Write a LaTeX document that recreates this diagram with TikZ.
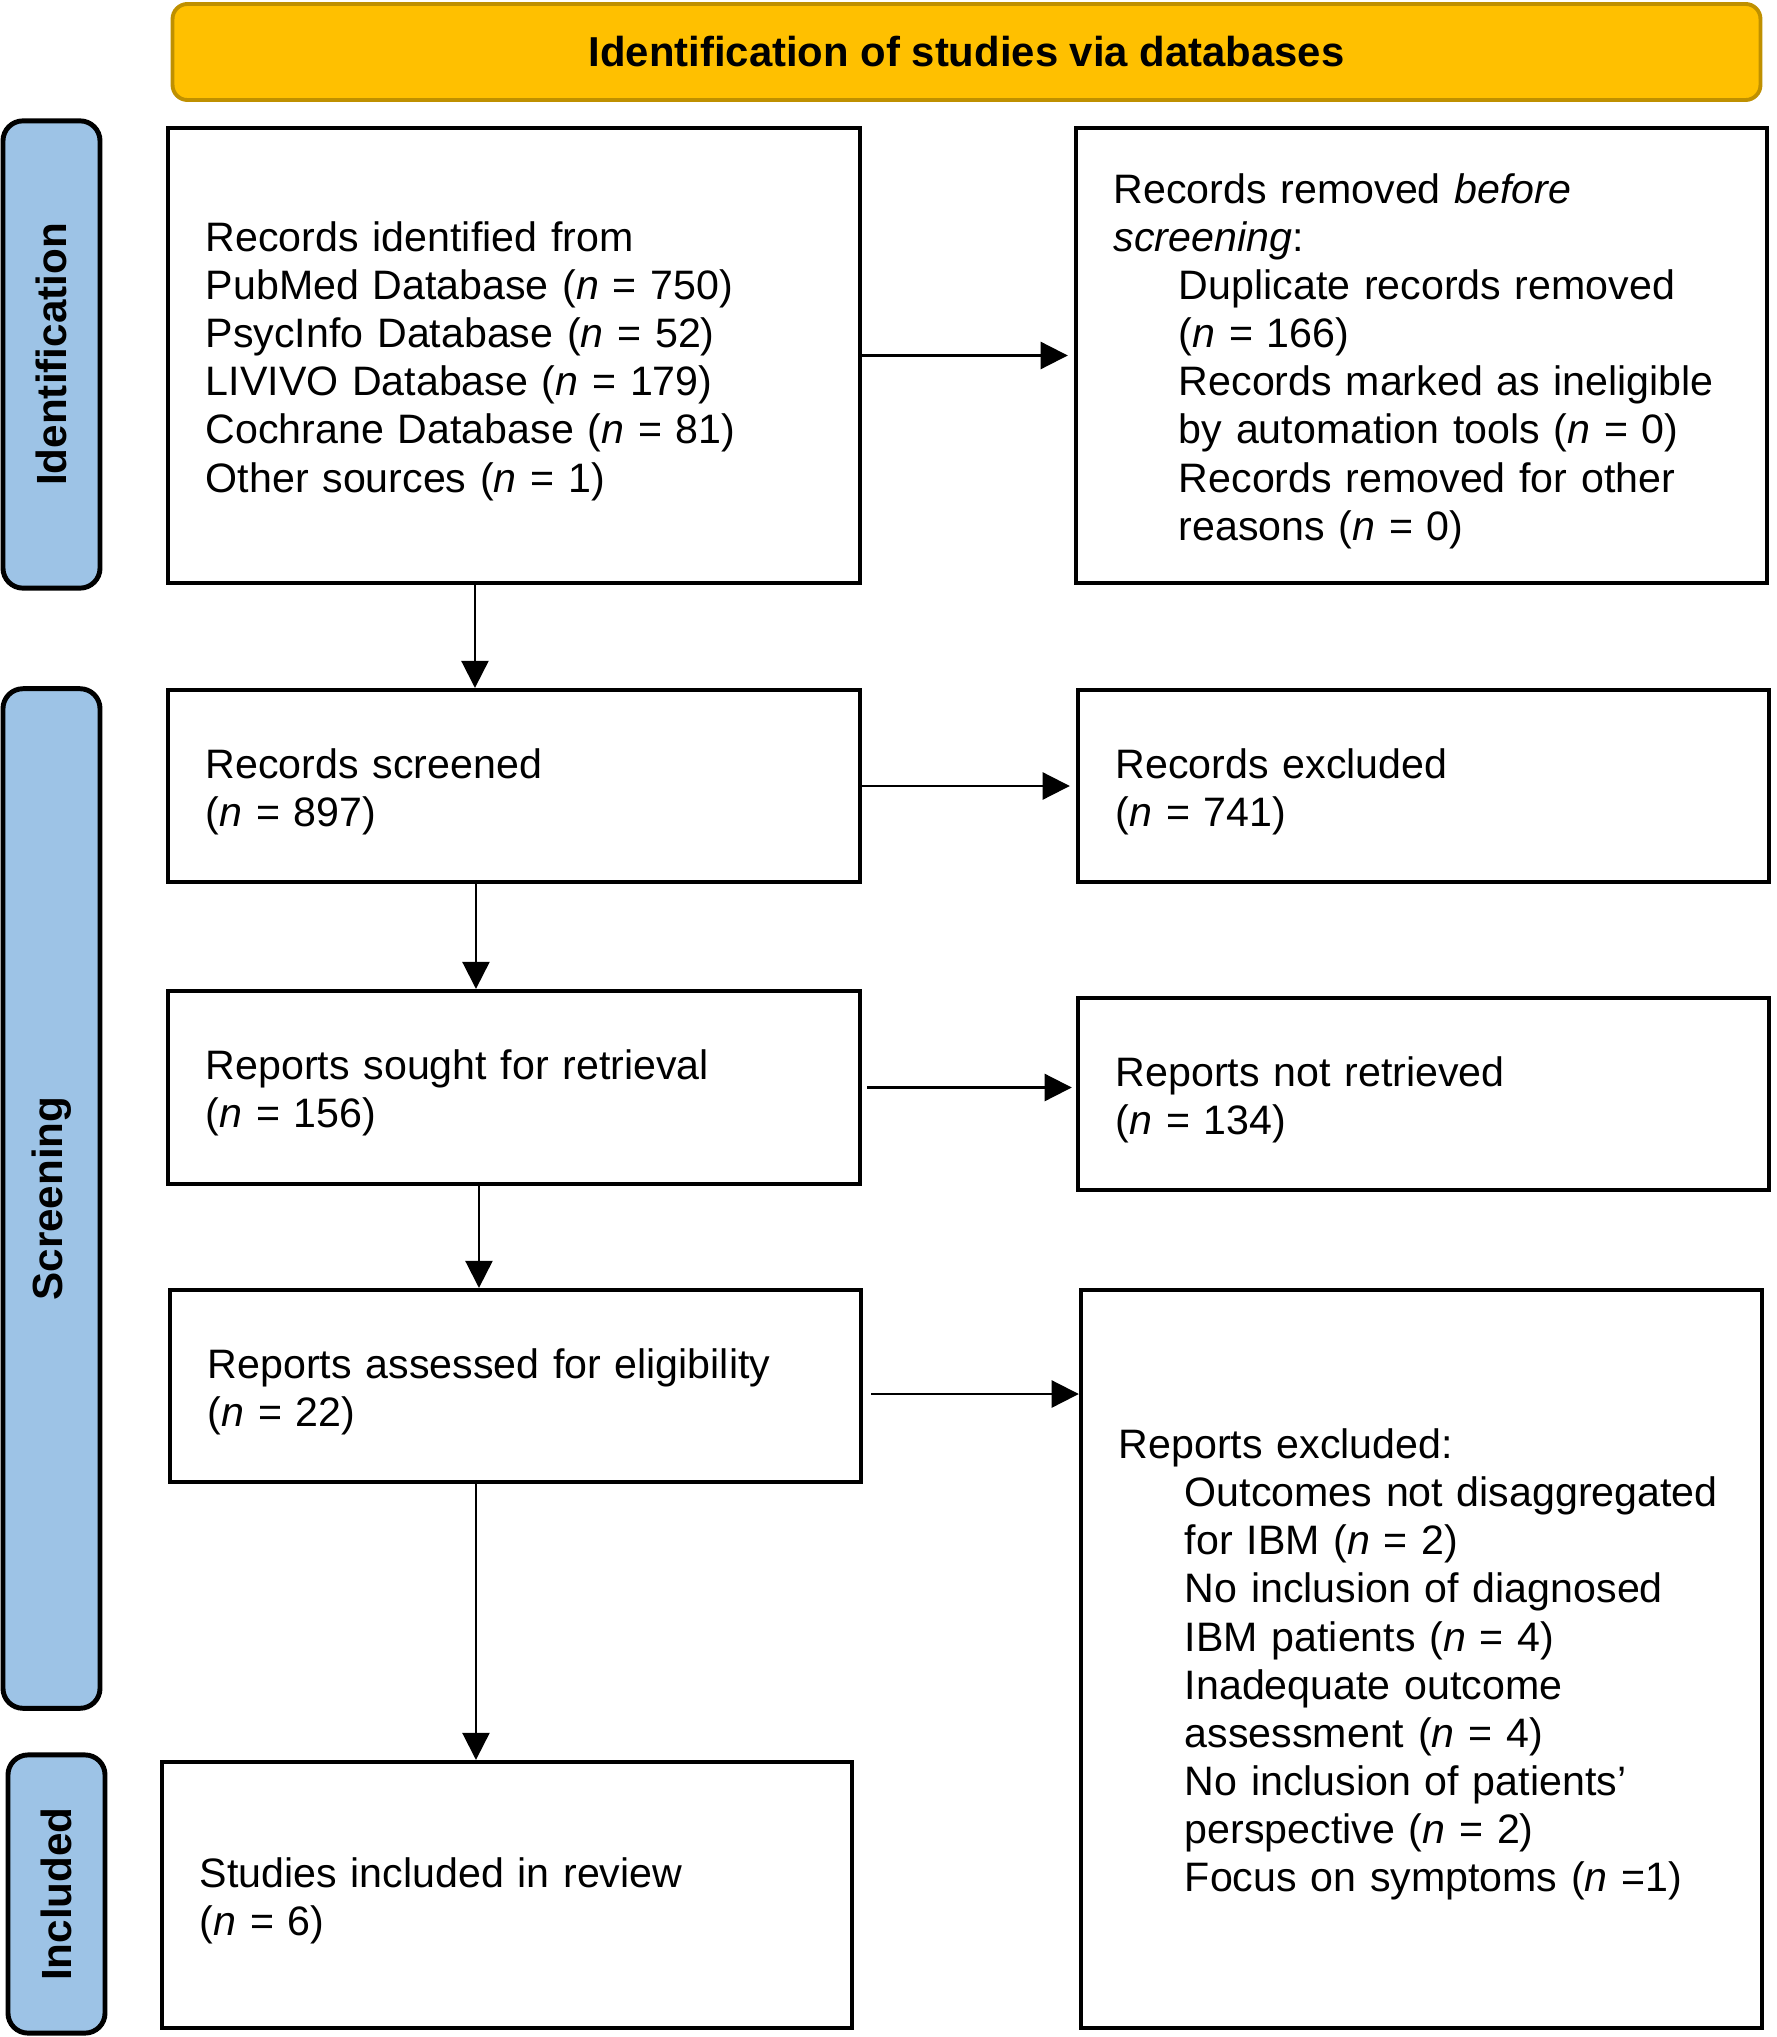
\documentclass[tikz,border=0pt]{standalone}
\usepackage{fontspec}
\setmainfont{Liberation Sans}
\usetikzlibrary{arrows.meta}

\definecolor{headgold}{HTML}{FFC000}
\definecolor{headedge}{HTML}{BF9000}
\definecolor{sideblue}{HTML}{9DC3E6}

\begin{document}
\begin{tikzpicture}[x=0.01cm, y=-0.01cm,
	every node/.style={font=\fontsize{11.7pt}{13.7pt}\selectfont},
	stagebox/.style={draw, line width=1.15pt, align=left, inner xsep=0.38cm, inner ysep=0pt, execute at begin node={\rule{0pt}{11.6pt}}},
	sidebox/.style={draw, fill=sideblue, line width=1.4pt, rounded corners=0.2cm, rotate=90, minimum height=0.97cm, inner sep=0pt, font=\fontsize{12pt}{14pt}\selectfont\bfseries},
	arr/.style={line width=0.6pt, -{Triangle[length=7.7pt, width=7.7pt]}}]
				\useasboundingbox (0, 0) rectangle (1776, 2037);
				\node[draw=headedge, fill=headgold, line width=1.1pt, rounded corners=0.15cm, minimum width=15.87cm, minimum height=0.96cm, font=\fontsize{11.9pt}{14pt}\selectfont\bfseries] (head) at (966.5, 52) {Identification of studies via databases};
				\node[sidebox, minimum width=4.67cm] (sideid) at (51.5, 354.5) {Identification};
				\node[sidebox, minimum width=10.19cm] (sidescr) at (51.5, 1198.5) {Screening};
				\node[sidebox, minimum width=2.78cm] (sideinc) at (56.5, 1894) {Included};
				\node[stagebox, text width=6.16cm, minimum height=4.55cm] (ident) at (514, 355.5) {Records identified from\\PubMed Database (\textit{n} = 750)\\PsycInfo Database (\textit{n} = 52)\\LIVIVO Database (\textit{n} = 179)\\Cochrane Database (\textit{n} = 81)\\Other sources (\textit{n} = 1)};
				\node[stagebox, text width=6.15cm, minimum height=4.55cm] (removed) at (1421.5, 355.5) {Records removed \textit{before}\\\textit{screening}:\\\hspace*{0.65cm}Duplicate records removed\\\hspace*{0.65cm}(\textit{n} = 166)\\\hspace*{0.65cm}Records marked as ineligible\\\hspace*{0.65cm}by automation tools (\textit{n} = 0)\\\hspace*{0.65cm}Records removed for other\\\hspace*{0.65cm}reasons (\textit{n} = 0)};
				\node[stagebox, text width=6.16cm, minimum height=1.92cm] (screened) at (514, 786) {Records screened\\(\textit{n} = 897)};
				\node[stagebox, text width=6.15cm, minimum height=1.92cm] (excluded) at (1423.5, 786) {Records excluded\\(\textit{n} = 741)};
				\node[stagebox, text width=6.16cm, minimum height=1.93cm] (sought) at (514, 1087.5) {Reports sought for retrieval\\(\textit{n} = 156)};
				\node[stagebox, text width=6.15cm, minimum height=1.92cm] (notretr) at (1423.5, 1094) {Reports not retrieved\\(\textit{n} = 134)};
				\node[stagebox, text width=6.15cm, minimum height=1.92cm] (assessed) at (515.5, 1386) {Reports assessed for eligibility\\(\textit{n} = 22)};
				\node[stagebox, text width=6.05cm, minimum height=7.38cm] (repexcl) at (1421.5, 1659) {Reports excluded:\\\hspace*{0.66cm}Outcomes not disaggregated\\\hspace*{0.66cm}for IBM (\textit{n} = 2)\\\hspace*{0.66cm}No inclusion of diagnosed\\\hspace*{0.66cm}IBM patients (\textit{n} = 4)\\\hspace*{0.66cm}Inadequate outcome\\\hspace*{0.66cm}assessment (\textit{n} = 4)\\\hspace*{0.66cm}No inclusion of patients'\\\hspace*{0.66cm}perspective (\textit{n} = 2)\\\hspace*{0.66cm}Focus on symptoms (\textit{n} =1)};
				\node[stagebox, text width=6.14cm, minimum height=2.66cm] (included) at (507, 1895) {Studies included in review\\(\textit{n} = 6)};
				\draw[arr] (ident.east) -- ([xshift=-0.06cm]removed.west |- ident.east);
				\draw[arr] (screened.east) -- ([xshift=-0.06cm]excluded.west |- screened.east);
				\draw[arr] ([xshift=0.05cm]sought.east) -- ([xshift=-0.04cm]notretr.west |- sought.east);
				\draw[arr] ([xshift=0.08cm]assessed.east |- 0,1394) -- (repexcl.west |- 0,1394);
				\draw[arr] ([xshift=3.09cm]ident.south west) -- ([xshift=3.09cm]ident.south west |- screened.north);
				\draw[arr] ([xshift=3.1cm]screened.south west) -- ([xshift=3.1cm]screened.south west |- sought.north);
				\draw[arr] ([xshift=3.13cm]sought.south west) -- ([xshift=3.13cm]sought.south west |- assessed.north);
				\draw[arr] ([xshift=3.08cm]assessed.south west) -- ([xshift=3.08cm]assessed.south west |- included.north);
			\end{tikzpicture}
\end{document}
